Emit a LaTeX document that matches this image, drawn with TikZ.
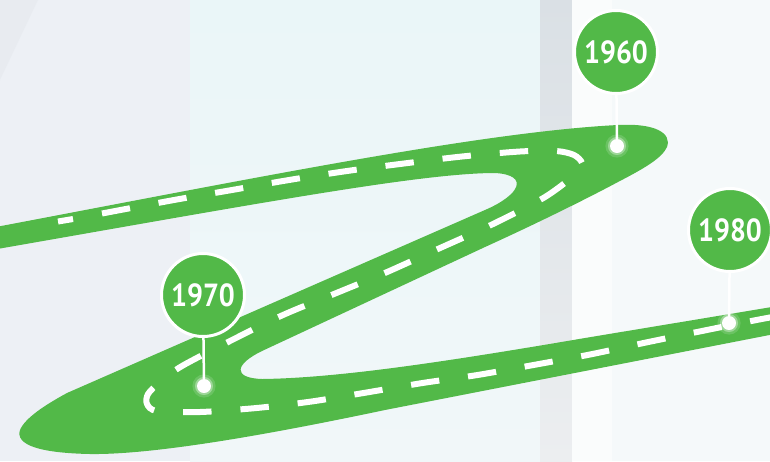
\documentclass[tikz,border=0pt]{standalone}
\usepackage{fontspec}
\setmainfont{PT Sans}
\definecolor{roadgreen}{RGB}{82,185,72}
\definecolor{bgleft}{RGB}{237,240,245}
\definecolor{bgcorner}{RGB}{228,232,237}
\definecolor{bgmidtop}{RGB}{234,246,248}
\definecolor{bgmidbot}{RGB}{241,247,249}
\definecolor{striptop}{RGB}{218,224,229}
\definecolor{stripbot}{RGB}{236,238,240}
\definecolor{whitestrip}{RGB}{250,252,252}
\definecolor{bgright}{RGB}{245,249,250}
\newcommand\yeartext[1]{\scalebox{0.88}[1]{#1}}
\tikzset{
  yearbadge/.style={circle, fill=roadgreen, draw=white, line width=3pt,
    minimum size=83pt, inner sep=0pt, text=white,
    font=\fontsize{32}{32}\selectfont\bfseries},
  pindot/.style={circle, fill=white, minimum size=14pt, inner sep=0pt,
    preaction={draw=white, draw opacity=0.15, line width=9pt},
    preaction={draw=white, draw opacity=0.35, line width=4pt}},
  pinline/.style={draw=white, line width=2.5pt},
  centerdash/.style={white, line width=6pt, dash pattern=on 28.5pt off 29pt}
}
\begin{document}
\begin{tikzpicture}[x=1pt,y=-1pt]
\useasboundingbox (0,0) rectangle (770,461);
\clip (0,0) rectangle (770,461);
% background
\fill[bgleft] (0,0) rectangle (190,461);
\fill[bgcorner, opacity=0.5] (0,0) -- (38,0) -- (0,80) -- cycle;
\shade[top color=bgmidtop, bottom color=bgmidbot] (190,0) rectangle (540,461);
\shade[top color=striptop, bottom color=stripbot] (540,0) rectangle (572,461);
\fill[whitestrip] (572,0) rectangle (612,461);
\fill[bgright] (612,0) rectangle (770,461);
% road
\fill[roadgreen]
  (-20,230) .. controls (250,179) and (480,132) .. (618,125)
  .. controls (655,123) and (672,133) .. (667,147)
  .. controls (662,158) and (645,168) .. (618,182)
  .. controls (590,197) and (540,222) .. (485,247)
  -- (262,351)
  .. controls (235,364) and (232,378) .. (262,379)
  .. controls (340,378) and (450,361) .. (585,338)
  -- (790,304) -- (790,331) -- (385,410)
  .. controls (290,430) and (160,455) .. (90,454)
  .. controls (40,453) and (15,445) .. (20,430)
  .. controls (25,418) and (45,405) .. (67,393)
  -- (485,210)
  .. controls (520,195) and (530,175) .. (495,173)
  .. controls (420,173) and (250,205) .. (-20,252)
  -- cycle;
% centre line
\draw[white, line width=6pt] (58,221.5) -- (73,219);
\draw[centerdash] plot[smooth, tension=0.5] coordinates {
 (102,213.5) (174,200) (232,190) (289,180) (347,171) (404,163.5) (462,156.5)
 (520,151.5) (556,151) (574,155) (582,163) (578,172) (545,197) (492,224.5)
 (439,248.5) (386,272.5) (334,294) (283,315) (232,340) (182,366) (160,382)
 (148,394) (147,404) (157,411) (200,412) (256.5,408) (311.5,401.5)
 (366.5,392.5) (422.5,383) (477.5,375) (533.5,365) (590,354.5) (646,342.5)
 (702,331) (756.5,320) (800,312)};
% pins
\node[pindot] (d1960) at (617,146) {};
\node[pindot] (d1970) at (204,386) {};
\node[pindot] (d1980) at (729,323) {};
\node[yearbadge] (c1960) at (616,52) {\yeartext{1960}};
\node[yearbadge] (c1970) at (203,295) {\yeartext{1970}};
\node[yearbadge] (c1980) at (730,230) {\yeartext{1980}};
\draw[pinline] (c1960) -- (d1960);
\draw[pinline] (c1970) -- (d1970);
\draw[pinline] (c1980) -- (d1980);
\end{tikzpicture}
\end{document}
